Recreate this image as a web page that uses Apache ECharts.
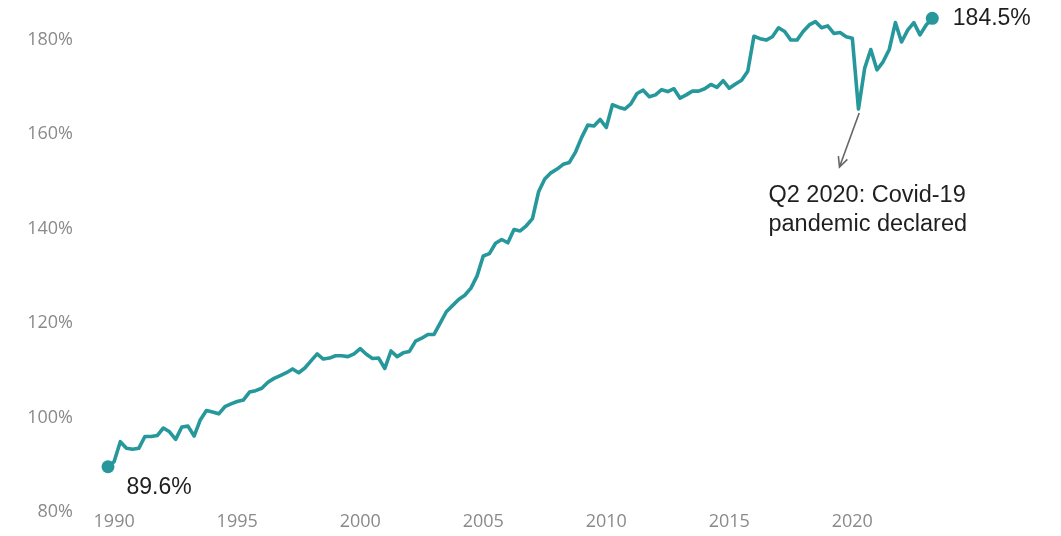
<!DOCTYPE html>
<html>
<head>
<meta charset="utf-8">
<script src="https://cdn.jsdelivr.net/npm/echarts@6/dist/echarts.min.js"></script>
<style>
  html, body { margin: 0; padding: 0; background: #ffffff; }
  #chart { width: 1061px; height: 536px; }
</style>
</head>
<body>
<div id="chart"></div>
<script>
// Quarterly ratio, Q4 1989 to Q2 2023
const startYear = 1989, startQuarter = 4;
const ratio = [
  89.6, 90.7, 94.9, 93.5, 93.3, 93.5, 96.0, 96.0, 96.2, 97.8,
  97.0, 95.4, 98.0, 98.2, 96.1, 99.5, 101.5, 101.2, 100.8, 102.3,
  102.9, 103.4, 103.7, 105.4, 105.7, 106.2, 107.5, 108.3, 108.9, 109.5,
  110.3, 109.5, 110.5, 112.0, 113.5, 112.4, 112.6, 113.1, 113.1, 112.9,
  113.5, 114.6, 113.4, 112.5, 112.6, 110.4, 114.1, 112.9, 113.7, 114.0,
  116.2, 116.8, 117.6, 117.6, 120.0, 122.4, 123.7, 125.0, 125.9, 127.4,
  130.0, 134.2, 134.7, 136.9, 137.7, 137.0, 139.8, 139.5, 140.6, 142.1,
  147.8, 150.5, 151.8, 152.6, 153.6, 154.0, 156.2, 159.3, 161.9, 161.7,
  163.1, 161.4, 166.2, 165.7, 165.3, 166.4, 168.6, 169.3, 167.9, 168.3,
  169.4, 169.0, 169.6, 167.6, 168.3, 169.1, 169.1, 169.6, 170.5, 169.9,
  171.3, 169.7, 170.6, 171.4, 173.3, 180.7, 180.2, 179.9, 180.6, 182.5,
  181.7, 179.9, 179.9, 181.7, 183.1, 183.8, 182.5, 182.9, 181.3, 181.5,
  180.6, 180.3, 165.3, 173.9, 177.9, 173.6, 175.3, 177.9, 183.6, 179.5,
  182.0, 183.6, 181.0, 183.1, 184.5
];
const quarters = [];
for (let i = 0; i < ratio.length; i++) {
  const q = startQuarter - 1 + i;
  quarters.push((startYear + Math.floor(q / 4)) + ' Q' + (q % 4 + 1));
}
const xTickLabels = ['1990', '1995', '2000', '2005', '2010', '2015', '2020'];
const yTickValues = [80, 100, 120, 140, 160, 180];
const covidQuarter = '2020 Q2';
const covidNote = 'Q2 2020: Covid-19\npandemic declared';

const teal = '#26989b';
const last = ratio.length - 1;
const seriesData = ratio.map((v, i) => {
  if (i === 0 || i === last) {
    return {
      value: v,
      symbol: 'circle',
      symbolSize: 13,
      itemStyle: { color: teal },
      label: {
        show: true,
        position: 'right',
        distance: i === 0 ? 12 : 14,
        offset: i === 0 ? [0, 21] : [0, 0],
        formatter: p => p.value + '%',
        fontFamily: 'Liberation Sans, Arial, sans-serif',
        fontSize: 23,
        color: '#1f1f1f'
      }
    };
  }
  return { value: v, symbol: 'none' };
});

const chart = echarts.init(document.getElementById('chart'), null, { renderer: 'canvas' });
chart.setOption({
  animation: false,
  backgroundColor: '#ffffff',
  grid: {
    left: 108, right: 128.7, top: 39.6, bottom: 23.9,
    containLabel: false, outerBoundsMode: 'none'
  },
  xAxis: {
    type: 'category',
    data: quarters,
    boundaryGap: false,
    axisLine: { show: false },
    axisTick: { show: false },
    splitLine: { show: false },
    axisLabel: {
      interval: (idx, val) => val.endsWith('Q1') && xTickLabels.includes(val.slice(0, 4)),
      formatter: val => val.slice(0, 4),
      margin: 1,
      fontFamily: 'Open Sans, sans-serif',
      fontSize: 18,
      color: '#8a8a8a'
    }
  },
  yAxis: {
    type: 'value',
    min: yTickValues[0],
    max: yTickValues[yTickValues.length - 1],
    interval: yTickValues[1] - yTickValues[0],
    axisLine: { show: false },
    axisTick: { show: false },
    splitLine: { show: false },
    axisLabel: {
      formatter: '{value}%',
      margin: 35,
      fontFamily: 'Open Sans, sans-serif',
      fontSize: 18,
      color: '#8a8a8a'
    }
  },
  series: [{
    type: 'line',
    data: seriesData,
    clip: false,
    showSymbol: true,
    showAllSymbol: true,
    symbol: 'none',
    lineStyle: { color: teal, width: 3.6, join: 'round', cap: 'round' },
    itemStyle: { color: teal },
    emphasis: { disabled: true }
  }]
});

// Covid annotation: arrow + note, positioned from the dip's pixel location
const ci = quarters.indexOf(covidQuarter);
const p = chart.convertToPixel({ seriesIndex: 0 }, [covidQuarter, ratio[ci]]);
const start = [p[0] + 0.7, p[1] + 4];
const tip = [p[0] - 19, p[1] + 58];
const ang = Math.atan2(start[1] - tip[1], start[0] - tip[0]);
const armLen = 11, spread = 0.45;
const arm1 = [tip[0] + armLen * Math.cos(ang - spread), tip[1] + armLen * Math.sin(ang - spread)];
const arm2 = [tip[0] + armLen * Math.cos(ang + spread), tip[1] + armLen * Math.sin(ang + spread)];
chart.setOption({
  graphic: [
    { type: 'line', shape: { x1: start[0], y1: start[1], x2: tip[0], y2: tip[1] },
      style: { stroke: '#666666', lineWidth: 1.6 }, z: 10 },
    { type: 'polyline', shape: { points: [arm1, tip, arm2] },
      style: { stroke: '#666666', lineWidth: 1.6, fill: null, lineJoin: 'miter' }, z: 10 },
    { type: 'text', x: p[0] - 90, y: p[1] + 72,
      style: { text: covidNote, fontFamily: 'Liberation Sans, Arial, sans-serif', fontSize: 23.5,
               lineHeight: 29, fill: '#1f1f1f', align: 'left', verticalAlign: 'top' }, z: 10 }
  ]
});
</script>
</body>
</html>
